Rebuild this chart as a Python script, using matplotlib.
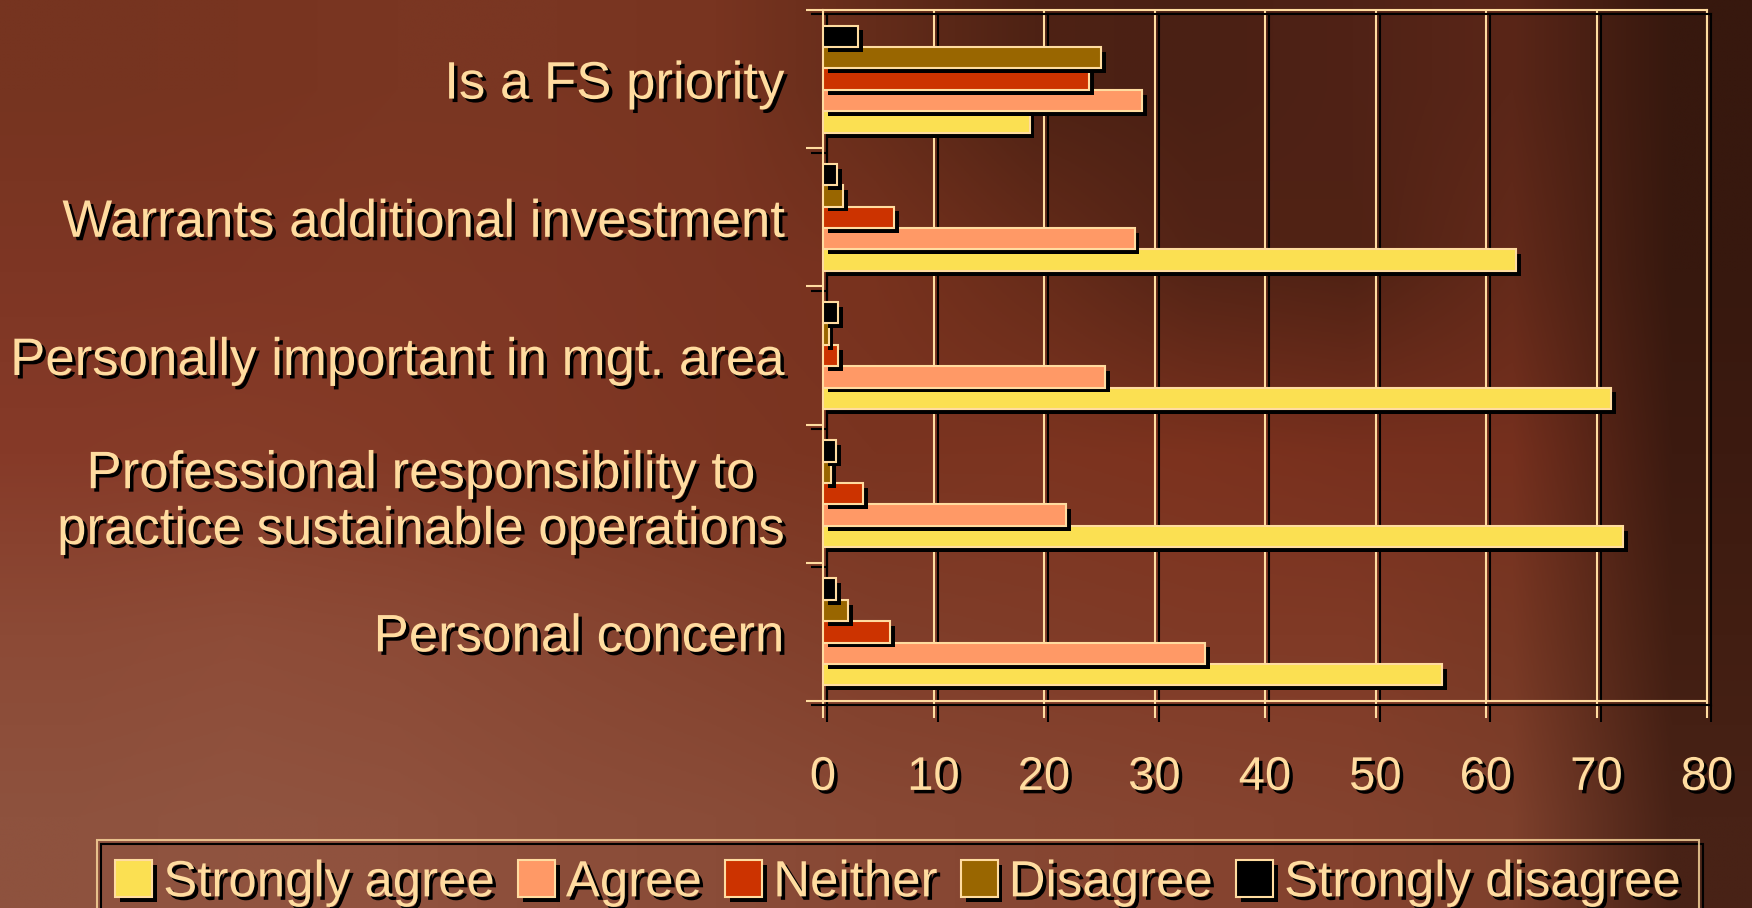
import numpy as np
import matplotlib
matplotlib.use("Agg")
import matplotlib.pyplot as plt
import matplotlib.patheffects as pe

categories = ["Is a FS priority",
              "Warrants additional investment",
              "Personally important in mgt. area",
              "Professional responsibility to\npractice sustainable operations",
              "Personal concern"]
series = ["Strongly agree", "Agree", "Neither", "Disagree", "Strongly disagree"]
strongly_agree = [18.7, 62.7, 71.3, 72.4, 56.0]
agree = [28.9, 28.2, 25.5, 22.0, 34.6]
neither = [24.1, 6.4, 1.4, 3.6, 6.1]
disagree = [25.2, 1.8, 0.5, 0.7, 2.3]
strongly_disagree = [3.2, 1.3, 1.4, 1.2, 1.2]
values = [strongly_agree, agree, neither, disagree, strongly_disagree]
colors = ["#FBE052", "#FF9966", "#CC3300", "#996600", "#000000"]
xticks = [0, 10, 20, 30, 40, 50, 60, 70, 80]

cream = "#FFDCA0"
plt.rcParams['font.family'] = ["Liberation Sans", "DejaVu Sans"]

fig = plt.figure(figsize=(17.52, 9.08), dpi=100)

# slide background (brown texture, approximated by a coarse colour grid)
bg = fig.add_axes([0, 0, 1, 1], zorder=-10)
bg_rgb = np.array([
    [[118, 52, 32], [120, 52, 32], [122, 54, 34], [122, 54, 34], [120, 52, 32], [100, 44, 26],
     [78, 34, 20], [74, 32, 20], [80, 34, 22], [90, 38, 24], [55, 24, 14]],
    [[126, 54, 36], [128, 54, 36], [128, 56, 36], [126, 54, 36], [122, 52, 34], [120, 50, 30],
     [104, 44, 26], [84, 36, 22], [80, 34, 20], [100, 42, 26], [55, 24, 14]],
    [[134, 58, 40], [134, 60, 40], [132, 58, 38], [128, 56, 36], [124, 54, 34], [122, 52, 32],
     [124, 52, 32], [124, 50, 30], [120, 48, 30], [118, 48, 30], [60, 26, 16]],
    [[140, 74, 54], [142, 76, 56], [140, 74, 54], [136, 70, 50], [132, 66, 46], [128, 62, 42],
     [128, 60, 40], [128, 58, 38], [128, 58, 38], [120, 56, 36], [66, 30, 18]],
    [[142, 82, 62], [144, 84, 64], [144, 82, 62], [140, 78, 58], [138, 76, 56], [136, 72, 52],
     [134, 70, 50], [134, 68, 48], [132, 66, 46], [126, 64, 44], [72, 34, 22]],
]) / 255.0
bg.imshow(bg_rgb, aspect='auto', interpolation='bilinear', extent=[0, 1, 0, 1])
bg.set_axis_off()

ax = fig.add_axes([823 / 1752, 1 - 701 / 908, (1707 - 823) / 1752, (701 - 10) / 908])
ax.patch.set_alpha(0)

shadow_patch = [pe.SimplePatchShadow(offset=(3.5, -3.5), shadow_rgbFace='black', alpha=1), pe.Normal()]
shadow_line = [pe.SimpleLineShadow(offset=(3.2, -3.2), shadow_color='black', alpha=1), pe.Normal()]
shadow_text = [pe.SimplePatchShadow(offset=(2.5, -2.5), shadow_rgbFace='black', alpha=1), pe.Normal()]

y = np.arange(len(categories))
h = 0.155
handles = []
for k, (name, vals, c) in enumerate(zip(series, values, colors)):
    bars = ax.barh(y + (2 - k) * h, vals, height=h, color=c, edgecolor=cream,
                   linewidth=1.5, label=name, zorder=3)
    for b in bars:
        b.set_path_effects(shadow_patch)
    handles.append(bars)

ax.set_xlim(0, 80)
ax.set_ylim(len(categories) - 0.5, -0.5)
ax.set_xticks(xticks)
ax.set_yticks(y)
ax.set_yticks(np.arange(len(categories) + 1) - 0.5, minor=True)
ax.set_yticklabels(categories, multialignment='center', linespacing=1.15)
ax.tick_params(axis='y', which='major', length=0, pad=28, labelsize=38, labelcolor=cream)
ax.tick_params(axis='y', which='minor', length=12, width=1.5, color=cream, direction='out')
ax.tick_params(axis='x', length=12, width=1.5, color=cream, direction='out', pad=27.5,
               labelsize=34, labelcolor=cream)
for t in ax.get_xticklabels() + ax.get_yticklabels():
    t.set_path_effects(shadow_text)
for tl in ax.xaxis.get_ticklines() + ax.yaxis.get_ticklines(minor=True):
    tl.set_path_effects(shadow_line)

ax.grid(axis='x', color=cream, linewidth=1.5, zorder=1)
for gl in ax.get_xgridlines():
    gl.set_path_effects(shadow_line)
for sp in ax.spines.values():
    sp.set_color(cream)
    sp.set_linewidth(1.5)
    sp.set_path_effects(shadow_line)
ax.set_axisbelow(True)

leg = fig.legend(handles=handles, loc='upper left', bbox_to_anchor=(97 / 1752, 1 - 840 / 908),
                 ncol=5, fontsize=36.7, frameon=True, handlelength=0.72, handleheight=0.72,
                 handletextpad=0.22, columnspacing=0.46, borderpad=0.36, borderaxespad=0)
leg.get_frame().set_facecolor('none')
leg.get_frame().set_edgecolor(cream)
leg.get_frame().set_linewidth(1.5)
leg.get_frame().set_boxstyle('square', pad=0)
leg.get_frame().set_path_effects(shadow_line)
for t in leg.get_texts():
    t.set_color(cream)
    t.set_path_effects(shadow_text)

fig.savefig("out.png", dpi=100)
